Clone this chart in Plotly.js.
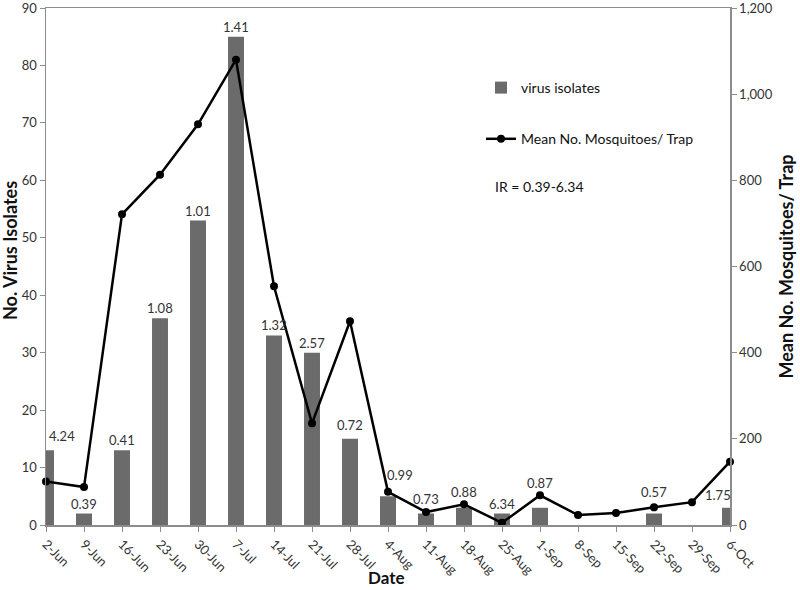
<!DOCTYPE html>
<html>
<head>
<meta charset="utf-8">
<script src="https://cdn.plot.ly/plotly-3.0.1.min.js"></script>
<style>html,body{margin:0;padding:0;background:#fff;}#chart{width:800px;height:590px;}</style>
</head>
<body>
<div id="chart"></div>
<script>
// ---- data ----
var dates = ["2-Jun","9-Jun","16-Jun","23-Jun","30-Jun","7-Jul","14-Jul","21-Jul","28-Jul","4-Aug","11-Aug","18-Aug","25-Aug","1-Sep","8-Sep","15-Sep","22-Sep","29-Sep","6-Oct"];
var virusIsolates = [13, 2, 13, 36, 53, 85, 33, 30, 15, 5, 2, 3, 2, 3, 0, 0, 2, 0, 3];
var meanMosquitoes = [101, 88, 721, 813, 930, 1080, 554, 236, 473, 77, 30, 48, 5, 69, 23, 28, 41, 53, 147];
var infectionRates = ["4.24","0.39","0.41","1.08","1.01","1.41","1.32","2.57","0.72","0.99","0.73","0.88","6.34","0.87","","","0.57","","1.75"];
var irNote = "IR = 0.39-6.34";

// ---- label placement tweaks (pixels) ----
var labelShift = {0:{x:16,y:4}, 8:{x:0,y:4}, 9:{x:12,y:11}, 10:{x:0,y:5}, 11:{x:0,y:6}, 13:{x:0,y:15}, 16:{x:0,y:12}, 18:{x:-12,y:3}};

var FONT = "Lato, 'Open Sans', sans-serif";
var TXT = "#333333";
var L = 46, R = 730, T = 8, B = 525;

var bars = {
  type: "bar", name: "virus isolates", x: dates, y: virusIsolates,
  marker: {color: "#6b6b6b", line: {width: 0}},
  legendgroup: "a"
};
var line = {
  type: "scatter", mode: "lines+markers", name: "Mean No. Mosquitoes/ Trap",
  x: dates, y: meanMosquitoes, yaxis: "y2",
  line: {color: "#000", width: 2.5}, marker: {color: "#000", size: 8},
  cliponaxis: false, legendgroup: "b"
};

function py(pix) { return (B - pix) / (B - T); }
function px(pix) { return (pix - L) / (R - L); }

var annotations = [];
infectionRates.forEach(function (t, i) {
  if (!t) return;
  var s = labelShift[i] || {x: 0, y: 0};
  annotations.push({
    x: dates[i], y: virusIsolates[i], xref: "x", yref: "y",
    text: t, showarrow: false, yanchor: "bottom", xanchor: "center",
    xshift: s.x, yshift: s.y,
    font: {family: FONT, size: 13, color: TXT}
  });
});
annotations.push({
  xref: "paper", yref: "paper", x: px(493), y: py(186),
  xanchor: "left", yanchor: "middle", showarrow: false, text: irNote,
  font: {family: FONT, size: 14, color: "#111"}
});
// axis titles placed as in the reference
annotations.push({
  xref: "paper", yref: "paper", x: px(10), y: py(251),
  xanchor: "center", yanchor: "middle", showarrow: false, textangle: -90,
  text: "<b>No. Virus Isolates</b>", font: {family: FONT, size: 18, color: "#111"}
});
annotations.push({
  xref: "paper", yref: "paper", x: px(386), y: py(589),
  xanchor: "center", yanchor: "bottom", showarrow: false, borderpad: 0,
  text: "<b>Date</b>", font: {family: FONT, size: 17, color: "#111"}
});

var axisCommon = {
  showgrid: false, zeroline: false,
  showline: true, linecolor: "#8c8c8c", linewidth: 1.5,
  ticks: "outside", ticklen: 5, tickcolor: "#8c8c8c",
  tickfont: {family: FONT, size: 13, color: TXT},
  ticklabeloverflow: "allow"
};

var layout = {
  width: 800, height: 590,
  margin: {l: L, r: 800 - R, t: T, b: 590 - B},
  paper_bgcolor: "#fff", plot_bgcolor: "#fff",
  font: {family: FONT, size: 13, color: TXT},
  bargap: 0.58,
  showlegend: true,
  legend: {
    x: px(481), y: py(72), xanchor: "left", yanchor: "top",
    bgcolor: "rgba(0,0,0,0)", tracegroupgap: 30,
    font: {family: FONT, size: 14, color: "#111"}, itemwidth: 30
  },
  xaxis: Object.assign({}, axisCommon, {
    type: "category", range: [0, 18], tickangle: 45, mirror: true
  }),
  yaxis: Object.assign({}, axisCommon, {
    range: [0, 90], dtick: 10
  }),
  yaxis2: Object.assign({}, axisCommon, {
    overlaying: "y", side: "right", range: [0, 1200], dtick: 200, tickformat: ",d",
    title: {text: "<b>Mean No. Mosquitoes/ Trap</b>", font: {family: FONT, size: 18, color: "#111"}, standoff: 8}
  }),
  annotations: annotations
};

Plotly.newPlot("chart", [bars, line], layout, {displayModeBar: false, staticPlot: true});
</script>
</body>
</html>
